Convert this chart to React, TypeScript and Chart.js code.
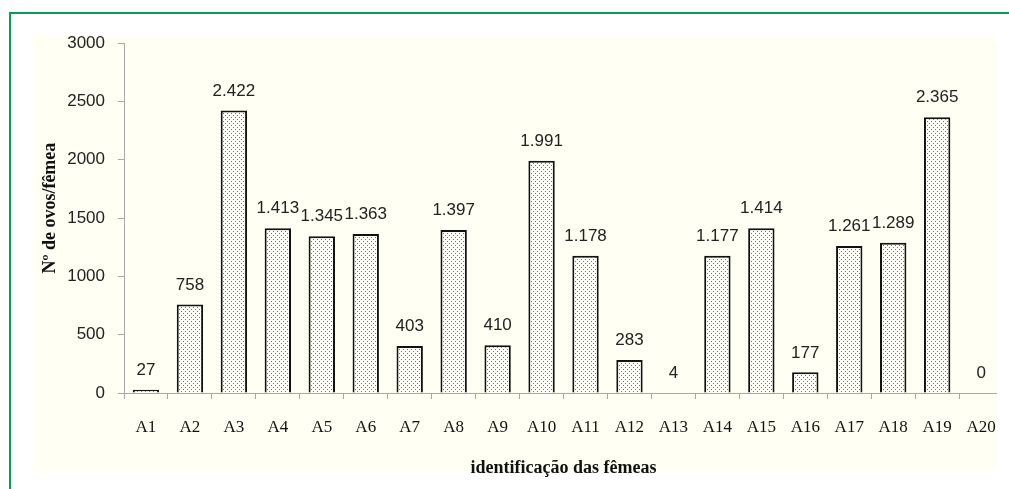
import React, { useEffect, useRef } from "react";
import { Chart, registerables } from "chart.js";

Chart.register(...registerables);

const categories = ["A1","A2","A3","A4","A5","A6","A7","A8","A9","A10","A11","A12","A13","A14","A15","A16","A17","A18","A19","A20"];
const eggsPerFemale = [27, 758, 2422, 1413, 1345, 1363, 403, 1397, 410, 1991, 1178, 283, 4, 1177, 1414, 177, 1261, 1289, 2365, 0];
const yMin = 0;
const yMax = 3000;
const yStep = 500;
const xTitle = "identificação das fêmeas";
const yTitle = "Nº de ovos/fêmea";

function fmt(v: number): string {
  const s = String(Math.round(v));
  return s.replace(/\B(?=(\d{3})+(?!\d))/g, ".");
}

function makePattern(): CanvasPattern | string {
  const c = document.createElement("canvas");
  c.width = 4;
  c.height = 4;
  const g = c.getContext("2d");
  if (!g) return "#fffff8";
  g.fillStyle = "#fffffa";
  g.fillRect(0, 0, 4, 4);
  g.fillStyle = "#707070";
  g.fillRect(1, 1, 1, 1);
  g.fillRect(3, 3, 1, 1);
  const p = g.createPattern(c, "repeat");
  return p || "#fffff8";
}

const valueLabels = {
  id: "valueLabels",
  afterDatasetsDraw(chart: any) {
    const ctx = chart.ctx;
    const meta = chart.getDatasetMeta(0);
    ctx.save();
    ctx.font = "17px 'Liberation Sans', Arial, sans-serif";
    ctx.fillStyle = "#222";
    ctx.textAlign = "center";
    ctx.textBaseline = "bottom";
    meta.data.forEach((bar: any, i: number) => {
      const v = chart.data.datasets[0].data[i] as number;
      ctx.fillText(fmt(v), bar.x, bar.y - 11);
    });
    ctx.restore();
  },
};

const yAxisTitle = {
  id: "yAxisTitle",
  afterDraw(chart: any) {
    const ctx = chart.ctx;
    const a = chart.chartArea;
    ctx.save();
    ctx.translate(a.left - 74, (a.top + a.bottom) / 2 - 10);
    ctx.rotate(-Math.PI / 2);
    ctx.font = "bold 18px 'Liberation Serif', 'Times New Roman', serif";
    ctx.fillStyle = "#111";
    ctx.textAlign = "center";
    ctx.textBaseline = "middle";
    ctx.fillText(yTitle, 0, 0);
    ctx.restore();
  },
};

export default function App() {
  const ref = useRef<HTMLCanvasElement | null>(null);
  useEffect(() => {
    if (!ref.current) return;
    const chart = new Chart(ref.current, {
      type: "bar",
      data: {
        labels: categories,
        datasets: [
          {
            data: eggsPerFemale,
            backgroundColor: makePattern() as any,
            borderColor: "#111",
            borderWidth: 2,
            barPercentage: 0.6,
            categoryPercentage: 1.0,
          },
        ],
      },
      options: {
        responsive: false,
        animation: false,
        devicePixelRatio: 1,
        layout: { padding: { top: 0, right: 10, left: 0, bottom: 0 } },
        plugins: {
          legend: { display: false },
          tooltip: { enabled: false },
          title: { display: false },
        },
        scales: {
          x: {
            type: "category",
            offset: true,
            grid: {
              offset: true,
              drawOnChartArea: false,
              drawTicks: true,
              tickLength: 6,
              color: "#a8a8a8",
            },
            border: { display: true, color: "#a8a8a8", width: 1 },
            ticks: {
              color: "#111",
              font: { family: "'Liberation Serif', 'Times New Roman', serif", size: 17 },
              padding: 18,
              maxRotation: 0,
              autoSkip: false,
            },
            title: {
              display: true,
              text: xTitle,
              color: "#111",
              font: { family: "'Liberation Serif', 'Times New Roman', serif", size: 18, weight: "bold" },
              padding: { top: 8, bottom: 1 },
            },
            afterFit(scale: any) {
              scale.height = 87;
            },
          },
          y: {
            min: yMin,
            max: yMax,
            grid: {
              drawOnChartArea: false,
              drawTicks: true,
              tickLength: 6,
              color: "#a8a8a8",
            },
            border: { display: true, color: "#a8a8a8", width: 1 },
            ticks: {
              stepSize: yStep,
              color: "#222",
              font: { family: "'Liberation Sans', Arial, sans-serif", size: 17 },
              padding: 13,
              callback: (v: any) => String(v),
            },
            afterFit(scale: any) {
              scale.width = 90;
            },
          },
        },
      },
      plugins: [valueLabels, yAxisTitle],
    });
    return () => chart.destroy();
  }, []);

  return (
    <div style={{ position: "fixed", left: 0, top: 0, width: 1009, height: 489, overflow: "hidden", background: "#ffffff" }}>
      <div style={{ position: "absolute", left: 9, top: 12, width: 1100, height: 600, border: "2px solid #0b9b5b", boxSizing: "border-box" }} />
      <div style={{ position: "absolute", left: 34, top: 35, width: 963, height: 436, background: "#fffff3" }} />
      <div style={{ position: "absolute", left: 34, top: 20, width: 963, height: 460, overflow: "hidden" }}>
        <canvas ref={ref} width={980} height={460} style={{ position: "absolute", left: 0, top: 0, width: 980, height: 460 }} />
      </div>
    </div>
  );
}
